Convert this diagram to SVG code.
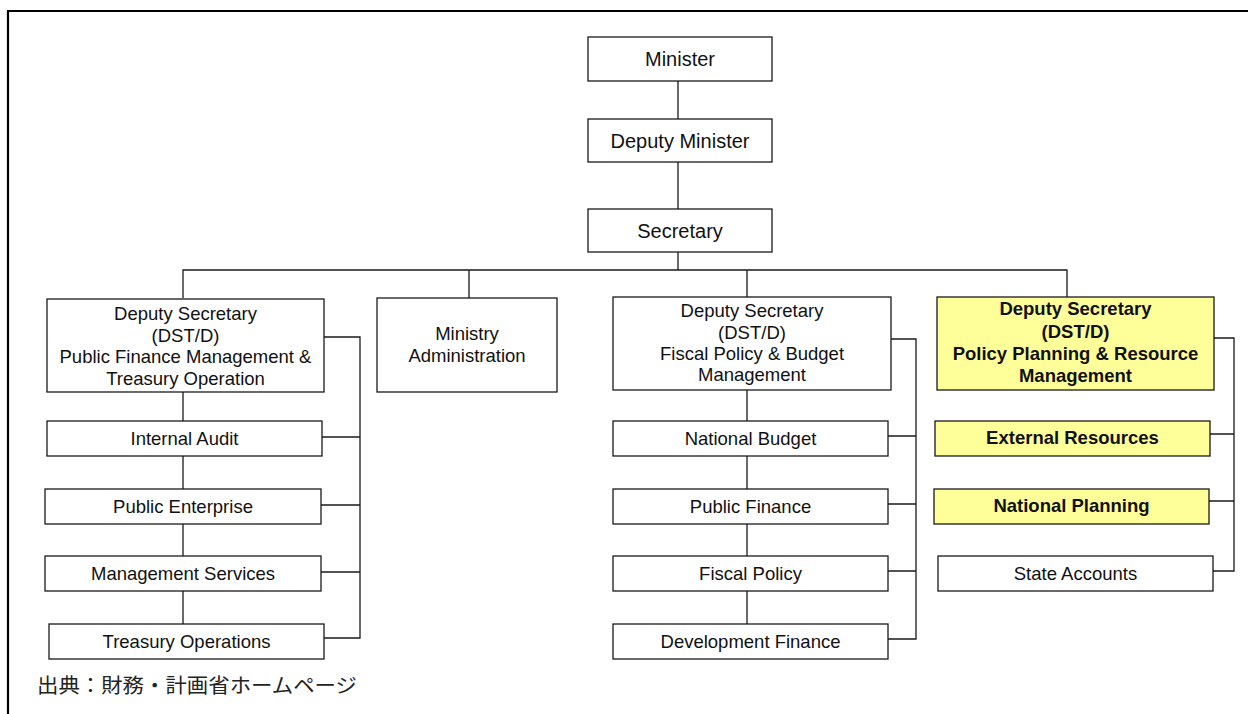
<svg xmlns="http://www.w3.org/2000/svg" width="1248" height="714" viewBox="0 0 1248 714">
<style>
  .box { fill: #ffffff; stroke: #1a1a1a; stroke-width: 1.3; }
  .hl { fill: #ffff99; stroke: #1a1a1a; stroke-width: 1.3; }
  .t { font-family: "Liberation Sans", Arial, sans-serif; font-size: 18.5px; fill: #111; text-anchor: middle; }
  .tb { font-family: "Liberation Sans", Arial, sans-serif; font-size: 18.5px; font-weight: bold; fill: #111; text-anchor: middle; }
  .tl { font-family: "Liberation Sans", Arial, sans-serif; font-size: 20px; fill: #111; text-anchor: middle; }
  .c { fill: none; stroke: #1a1a1a; stroke-width: 1.3; }
  .cap { font-family: "Liberation Serif", "Noto Sans CJK JP", serif; font-size: 20px; fill: #222; }
</style>
<rect x="0" y="0" width="1248" height="714" fill="#ffffff"/>
<path d="M8 714 V11 H1248" fill="none" stroke="#000" stroke-width="2.2"/>

<g id="connectors">
  <path class="c" d="M678 81 V119 M678 162 V209 M678 252 V270"/>
  <path class="c" d="M183 298 V270 H1067 V297 M469 270 V298 M747 270 V297"/>
  <path class="c" d="M183 392 V421 M183 456 V489 M183 524 V556 M183 591 V624"/>
  <path class="c" d="M324 337 H360 V638 H324 M322 437 H360 M321 505 H360 M321 572 H360"/>
  <path class="c" d="M747 390 V421 M747 456 V489 M747 524 V556 M747 591 V624"/>
  <path class="c" d="M891 339 H916 V639 H888 M888 436 H916 M888 504 H916 M888 571 H916"/>
  <path class="c" d="M1214 338 H1234 V571 H1213 M1210 434 H1234 M1209 501 H1234"/>
</g>

<g id="minister"><rect class="box" x="588" y="37" width="184" height="44"/><text class="tl" x="680" y="66">Minister</text></g>
<g id="deputy-minister"><rect class="box" x="588" y="119" width="184" height="43"/><text class="tl" x="680" y="148">Deputy Minister</text></g>
<g id="secretary"><rect class="box" x="588" y="209" width="184" height="43"/><text class="tl" x="680" y="238">Secretary</text></g>

<g id="ds-pfm"><rect class="box" x="47" y="299" width="277" height="93"/>
  <text class="t" x="185.5" y="320">Deputy Secretary</text>
  <text class="t" x="185.5" y="341.5">(DST/D)</text>
  <text class="t" x="185.5" y="363">Public Finance Management &amp;</text>
  <text class="t" x="185.5" y="384.5">Treasury Operation</text></g>
<g id="internal-audit"><rect class="box" x="47" y="421" width="275" height="35"/><text class="t" x="184.5" y="445">Internal Audit</text></g>
<g id="public-enterprise"><rect class="box" x="45" y="489" width="276" height="35"/><text class="t" x="183" y="513">Public Enterprise</text></g>
<g id="management-services"><rect class="box" x="45" y="556" width="276" height="35"/><text class="t" x="183" y="580">Management Services</text></g>
<g id="treasury-operations"><rect class="box" x="49" y="624" width="275" height="35"/><text class="t" x="186.5" y="648">Treasury Operations</text></g>

<g id="ministry-admin"><rect class="box" x="377" y="298" width="180" height="94"/>
  <text class="t" x="467" y="340">Ministry</text>
  <text class="t" x="467" y="362">Administration</text></g>

<g id="ds-fpbm"><rect class="box" x="613" y="297" width="278" height="93"/>
  <text class="t" x="752" y="317">Deputy Secretary</text>
  <text class="t" x="752" y="338.5">(DST/D)</text>
  <text class="t" x="752" y="360">Fiscal Policy &amp; Budget</text>
  <text class="t" x="752" y="381">Management</text></g>
<g id="national-budget"><rect class="box" x="613" y="421" width="275" height="35"/><text class="t" x="750.5" y="445">National Budget</text></g>
<g id="public-finance"><rect class="box" x="613" y="489" width="275" height="35"/><text class="t" x="750.5" y="513">Public Finance</text></g>
<g id="fiscal-policy"><rect class="box" x="613" y="556" width="275" height="35"/><text class="t" x="750.5" y="580">Fiscal Policy</text></g>
<g id="development-finance"><rect class="box" x="613" y="624" width="275" height="35"/><text class="t" x="750.5" y="648">Development Finance</text></g>

<g id="ds-pprm"><rect class="hl" x="937" y="297" width="277" height="93"/>
  <text class="tb" x="1075.5" y="315">Deputy Secretary</text>
  <text class="tb" x="1075.5" y="337.5">(DST/D)</text>
  <text class="tb" x="1075.5" y="360">Policy Planning &amp; Resource</text>
  <text class="tb" x="1075.5" y="382">Management</text></g>
<g id="external-resources"><rect class="hl" x="935" y="421" width="275" height="35"/><text class="tb" x="1072.5" y="444">External Resources</text></g>
<g id="national-planning"><rect class="hl" x="934" y="489" width="275" height="35"/><text class="tb" x="1071.5" y="512">National Planning</text></g>
<g id="state-accounts"><rect class="box" x="938" y="556" width="275" height="35"/><text class="t" x="1075.5" y="580">State Accounts</text></g>

<text class="cap" x="37" y="693" textLength="320" lengthAdjust="spacingAndGlyphs">出典：財務・計画省ホームページ</text>
</svg>
